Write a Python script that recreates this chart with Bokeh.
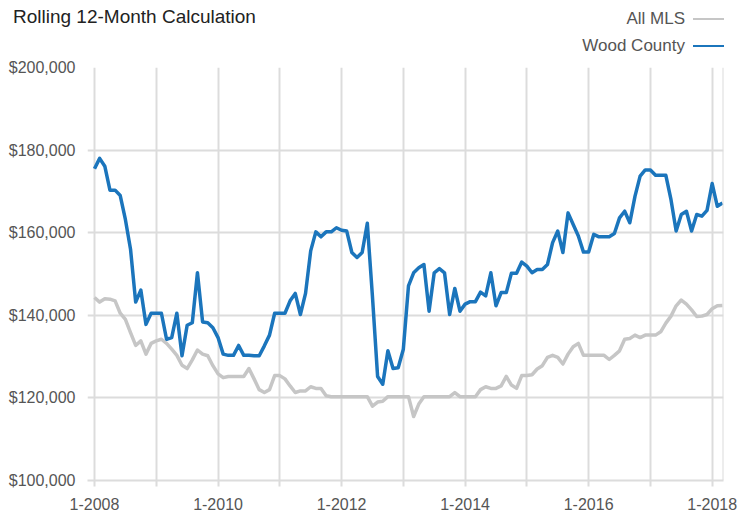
from bokeh.plotting import figure
from bokeh.layouts import column
from bokeh.models import (Range1d, FixedTicker, NumeralTickFormatter, Div,
                          Span, ColumnDataSource)
from bokeh.embed import file_html
from bokeh.resources import INLINE

# ---------------- data (monthly, Jan 2008 .. Mar 2018) ----------------
start_year = 2008
wood_county = [
    175500, 178000, 176100, 170300, 170300, 169000, 163200, 156000, 143200, 146100,
    137800, 140500, 140500, 140500, 134200, 134600, 140500, 130200, 137600, 138200,
    150300, 138400, 138200, 137000, 134600, 130600, 130300, 130300, 132700, 130300,
    130300, 130200, 130200, 132600, 135200, 140500, 140500, 140500, 143500, 145300,
    140200, 145300, 155600, 160200, 159000, 160200, 160200, 161200, 160600, 160400,
    155200, 154000, 155200, 162300, 144500, 125200, 123300, 131400, 127100, 127300,
    131800, 147100, 150300, 151500, 152300, 141000, 150300, 151300, 150300, 140200,
    146500, 141000, 142700, 143300, 143300, 145600, 144700, 150300, 142300, 145500,
    145500, 150200, 150200, 152900, 151900, 150300, 151100, 151100, 152300, 157600,
    160400, 155200, 164800, 162000, 159200, 155300, 155300, 159600, 159000, 159000,
    159000, 159800, 163600, 165200, 162400, 168800, 173700, 175200, 175200, 173900,
    173900, 173900, 168000, 160400, 164400, 165200, 160400, 164400, 164000, 165400,
    171900, 166400, 167200,
]
all_mls = [
    144300, 143200, 144000, 143900, 143500, 140500, 139000, 135800, 132700, 133800,
    130600, 133200, 133800, 134200, 133200, 131800, 130300, 127900, 127100, 129200,
    131600, 130600, 130200, 127800, 125800, 124900, 125200, 125200, 125200, 125200,
    127100, 124600, 122000, 121300, 122000, 125400, 125400, 124600, 122900, 121300,
    121700, 121700, 122700, 122300, 122300, 120500, 120300, 120300, 120300, 120300,
    120300, 120300, 120300, 120300, 118000, 119000, 119200, 120300, 120300, 120300,
    120300, 120300, 115500, 118500, 120300, 120300, 120300, 120300, 120300, 120300,
    121300, 120300, 120300, 120300, 120300, 122000, 122700, 122300, 122300, 122900,
    125200, 123100, 122300, 125400, 125400, 125600, 127000, 127800, 129800, 130300,
    129800, 128200, 130600, 132400, 133200, 130300, 130300, 130300, 130300, 130300,
    129300, 130300, 131400, 134200, 134400, 135200, 134600, 135200, 135200, 135200,
    136000, 138100, 139800, 142300, 143700, 142700, 141300, 139700, 139800, 140200,
    141600, 142300, 142400,
]
month_index = list(range(len(wood_county)))
year_ticks = list(range(0, len(wood_county), 12))
tick_labels = {t: (f"1-{start_year + t // 12}" if (t // 12) % 2 == 0 else "")
               for t in year_ticks}
y_ticks = [100000, 120000, 140000, 160000, 180000, 200000]

title_text = "Rolling 12-Month Calculation"
series_names = ["All MLS", "Wood County"]
blue = "#1b75bc"
gray = "#c6c6c6"
grid_color = "#dcdcdc"
FONT = "Liberation Sans"

# ---------------- header: title + legend ----------------
HEAD_W, HEAD_H = 750, 58
legend_rows = [(series_names[0], gray, 8), (series_names[1], blue, 35)]
parts = [f'<div style="position:relative;width:{HEAD_W}px;height:{HEAD_H}px;'
         f"font-family:'{FONT}',Arial,sans-serif;\">",
         f'<span style="position:absolute;left:13px;top:6px;font-size:19px;'
         f'line-height:22px;color:#222222;white-space:nowrap;">{title_text}</span>']
for name, color, top in legend_rows:
    parts.append(f'<span style="position:absolute;right:65px;top:{top}px;font-size:17px;'
                 f'line-height:22px;color:#555555;white-space:nowrap;">{name}</span>')
    parts.append(f'<span style="position:absolute;left:693px;top:{top + 10}px;width:31px;'
                 f'height:2px;background:{color};"></span>')
parts.append("</div>")
head = Div(text="".join(parts), width=HEAD_W, height=HEAD_H, margin=0)

# ---------------- main chart ----------------
X0, X1 = -1.36, month_index[-1] + 0.2
src = ColumnDataSource(dict(x=month_index, wood=wood_county, mls=all_mls))

p = figure(frame_width=636, frame_height=413, output_backend="svg", toolbar_location=None,
           x_range=Range1d(X0, X1), y_range=Range1d(y_ticks[0], y_ticks[-1]),
           min_border_left=87, min_border_right=27, min_border_top=9,
           min_border_bottom=36, margin=0)
p.outline_line_color = None

p.line("x", "mls", source=src, line_color=gray, line_width=3.5, line_join="round")
p.line("x", "wood", source=src, line_color=blue, line_width=3.5, line_join="round")

xa = p.xaxis[0]
xa.ticker = FixedTicker(ticks=year_ticks)
xa.major_label_overrides = tick_labels
xa.axis_line_color = grid_color
xa.axis_line_width = 2
xa.major_tick_line_color = grid_color
xa.major_tick_line_width = 2
xa.major_tick_in = 0
xa.major_tick_out = 6
xa.minor_tick_line_color = None
xa.major_label_standoff = 11
xa.major_label_text_font = FONT
xa.major_label_text_font_size = "16px"
xa.major_label_text_color = "#555555"

ya = p.yaxis[0]
ya.ticker = FixedTicker(ticks=y_ticks)
ya.formatter = NumeralTickFormatter(format="$0,0")
ya.axis_line_color = None
ya.major_tick_line_color = None
ya.major_tick_out = 0
ya.major_tick_in = 0
ya.minor_tick_line_color = None
ya.major_label_standoff = 12
ya.major_label_text_font = FONT
ya.major_label_text_font_size = "16px"
ya.major_label_text_color = "#555555"

p.xgrid.ticker = FixedTicker(ticks=year_ticks)
p.xgrid.grid_line_color = grid_color
p.xgrid.grid_line_width = 2
p.ygrid.grid_line_color = grid_color
p.ygrid.grid_line_width = 2

p.add_layout(Span(location=X1, dimension="height", line_color=grid_color, line_width=2))

layout = column(head, p, spacing=0)
open("out.html", "w").write(file_html(layout, INLINE))
